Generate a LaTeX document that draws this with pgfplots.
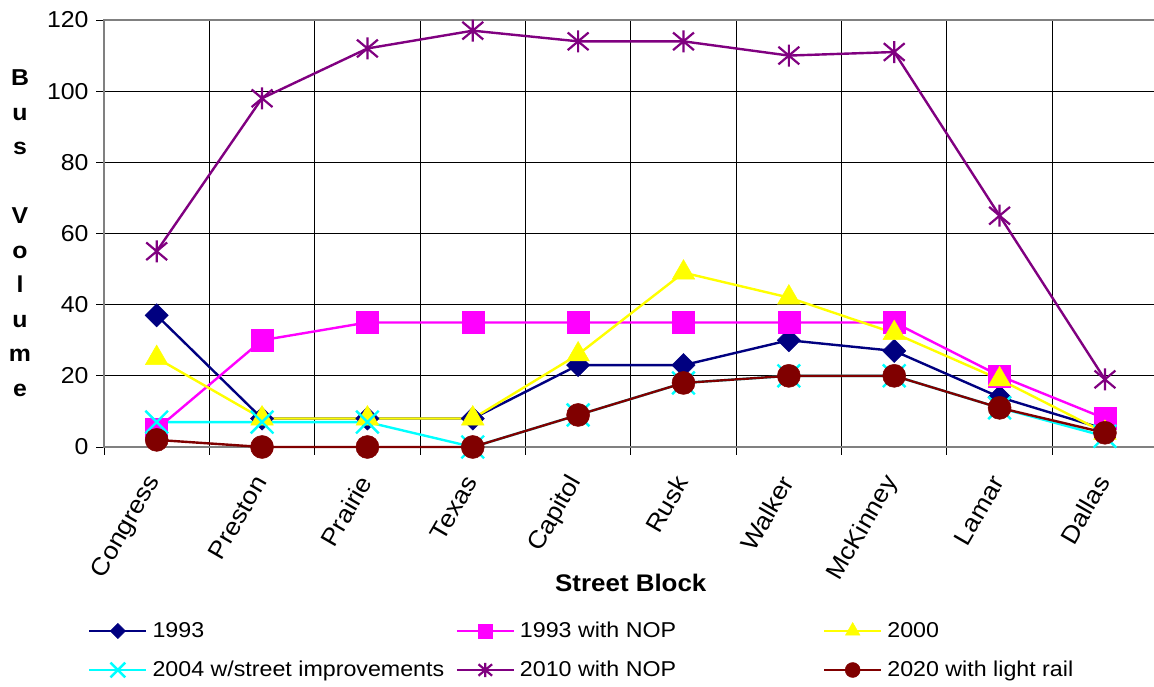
\documentclass[border=0pt]{standalone}
\usepackage{fontspec}
\setmainfont[FakeStretch=1.08]{Liberation Sans}
\usepackage{pgfplots}
\pgfplotsset{compat=1.18}
\definecolor{cnavy}{RGB}{0,0,128}
\definecolor{cmag}{RGB}{255,0,255}
\definecolor{cyel}{RGB}{255,255,0}
\definecolor{ccyan}{RGB}{0,255,255}
\definecolor{cpurp}{RGB}{128,0,128}
\definecolor{cmaroon}{RGB}{128,0,0}
\pgfdeclareplotmark{excelstar}{%
  \pgfpathmoveto{\pgfqpoint{0pt}{\pgfplotmarksize}}%
  \pgfpathlineto{\pgfqpoint{0pt}{-\pgfplotmarksize}}%
  \pgfpathmoveto{\pgfqpoint{-0.95\pgfplotmarksize}{-0.8\pgfplotmarksize}}%
  \pgfpathlineto{\pgfqpoint{0.95\pgfplotmarksize}{0.8\pgfplotmarksize}}%
  \pgfpathmoveto{\pgfqpoint{-0.95\pgfplotmarksize}{0.8\pgfplotmarksize}}%
  \pgfpathlineto{\pgfqpoint{0.95\pgfplotmarksize}{-0.8\pgfplotmarksize}}%
  \pgfusepathqstroke}
\begin{document}
\begin{tikzpicture}[x=1pt,y=1pt]
\begin{axis}[
  at={(104pt,240pt)}, anchor=south west,
  scale only axis, width=1053.6pt, height=427pt,
  xmin=-0.5, xmax=9.5, ymin=0, ymax=120,
  xtick={0,...,9},
  xticklabels={Congress,Preston,Prairie,Texas,Capitol,Rusk,Walker,McKinney,Lamar,Dallas},
  minor xtick={-0.5,0.5,...,9.5},
  ytick={0,20,...,120},
  xtick pos=bottom, ytick pos=left,
  xminorgrids=true, ymajorgrids=true, xmajorgrids=false,
  major grid style={black, line width=0.9pt},
  minor grid style={black, line width=0.9pt},
  axis line style={draw=gray, line width=2.2pt},
  tick align=outside,
  major tick length=8pt, minor tick length=8pt,
  every tick/.style={black, line width=0.9pt},
  major x tick style={draw=none},
  /pgf/number format/assume math mode=true,
  tick label style={font=\fontsize{23}{27}\selectfont},
  yticklabel style={xshift=-4pt},
  xticklabel style={yshift=-20pt, xshift=0pt, rotate=60, anchor=east, font=\fontsize{24.5}{28}\selectfont},
  xlabel={\bfseries Street Block},
  xlabel style={at={(axis description cs:0.5,-0.318)}, anchor=center, font=\fontsize{24}{28}\selectfont},
  ylabel={B\\u\\s\\[34.5pt]V\\o\\l\\u\\m\\e},
  ylabel style={rotate=-90, at={(axis description cs:-0.0797,0.501)}, anchor=center, align=center, font=\fontsize{23}{34.5}\selectfont\bfseries},
  clip=false,
  legend columns=3,
  legend style={draw=none, fill=none, at={(axis description cs:-0.0152,-0.4766)}, anchor=west,
    font=\fontsize{21.5}{26}\selectfont, inner sep=0pt,
    nodes={inner sep=0pt, text height=16pt, text depth=4pt, anchor=west},
    row sep=19pt, /tikz/column sep=0pt,
    /tikz/every odd column/.append style={column sep=5pt}},
  legend image code/.code={\draw[mark repeat=2,mark phase=2,#1] plot coordinates {(0pt,0pt) (28.5pt,0pt) (57pt,0pt)};},
  legend image post style={/tikz/every mark/.append style={scale=0.65}},
]
\addplot[cnavy, line width=2.4pt, mark=square*, mark size=8.2pt, mark options={solid, rotate=45, line width=0.5pt}]
  coordinates {(0,37) (1,8) (2,8) (3,8) (4,23) (5,23) (6,30) (7,27) (8,14) (9,5)};
\addlegendentry{\makebox[303pt][l]{1993}}
\addplot[cmag, line width=2.4pt, mark=square*, mark size=11pt, mark options={solid, line width=0.5pt}]
  coordinates {(0,5) (1,30) (2,35) (3,35) (4,35) (5,35) (6,35) (7,35) (8,20) (9,8)};
\addlegendentry{\makebox[303pt][l]{1993 with NOP}}
\addplot[cyel, line width=2.4pt, mark=triangle*, mark size=13pt, mark options={solid, line width=0.5pt}]
  coordinates {(0,25) (1,8) (2,8) (3,8) (4,26) (5,49) (6,42) (7,32) (8,19) (9,4)};
\addlegendentry{2000}
\addplot[ccyan, line width=2.4pt, mark=x, mark size=16pt, mark options={solid, line width=2.4pt}]
  coordinates {(0,7) (1,7) (2,7) (3,0) (4,9) (5,18) (6,20) (7,20) (8,11) (9,3)};
\addlegendentry{\makebox[303pt][l]{2004 w/street improvements}}
\addplot[cpurp, line width=2.4pt, mark=excelstar, mark size=11pt, mark options={solid, line width=2.2pt}]
  coordinates {(0,55) (1,98) (2,112) (3,117) (4,114) (5,114) (6,110) (7,111) (8,65) (9,19)};
\addlegendentry{\makebox[303pt][l]{2010 with NOP}}
\addplot[cmaroon, line width=2.4pt, mark=*, mark size=11.5pt, mark options={solid, line width=0.5pt}]
  coordinates {(0,2) (1,0) (2,0) (3,0) (4,9) (5,18) (6,20) (7,20) (8,11) (9,4)};
\addlegendentry{2020 with light rail}
\end{axis}
\pgfresetboundingbox
\useasboundingbox (0,0) rectangle (1154,687);
\end{tikzpicture}
\end{document}
